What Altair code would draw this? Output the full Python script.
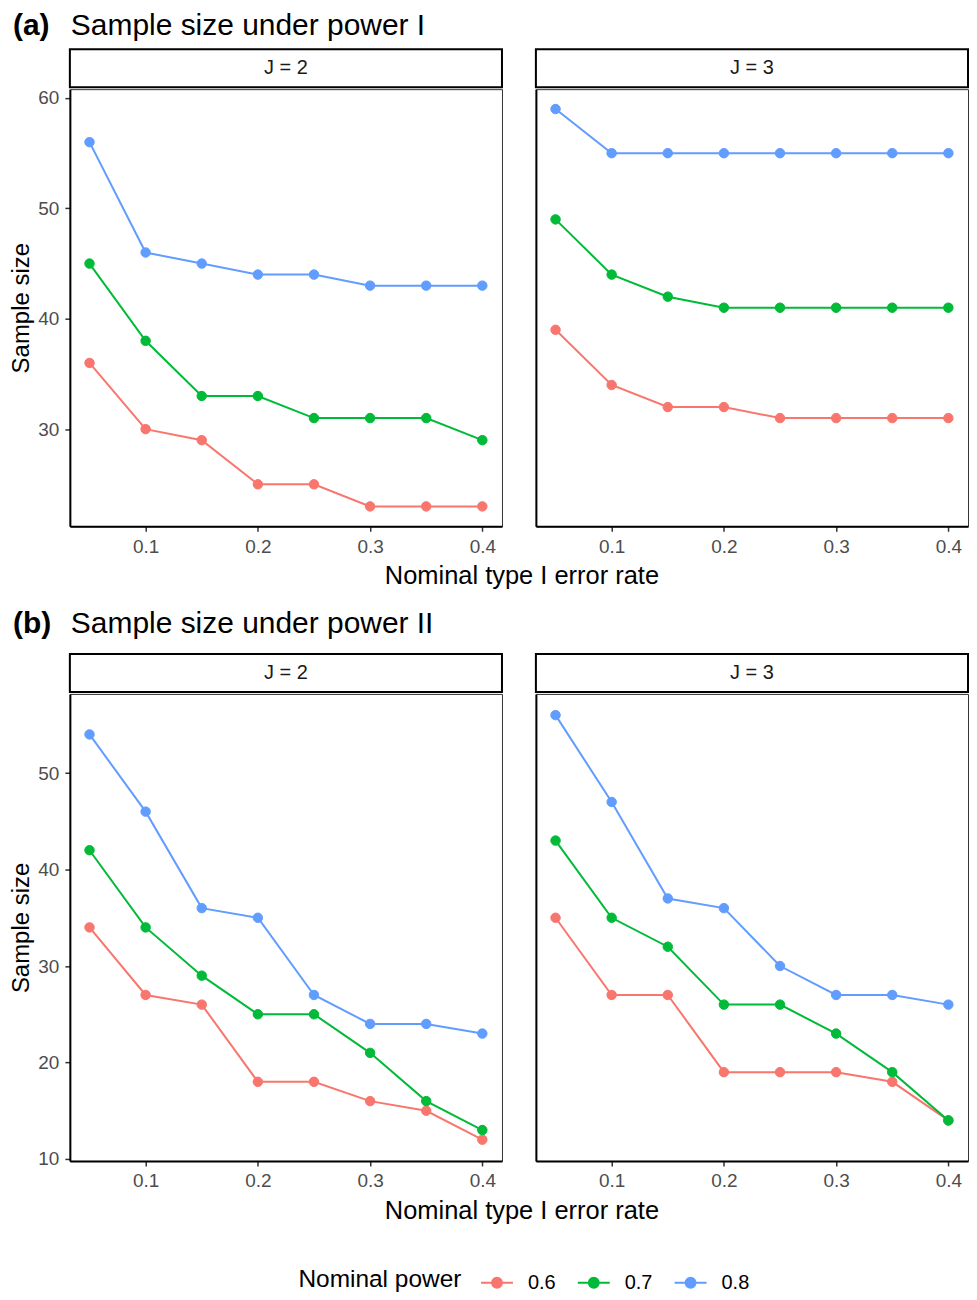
import altair as alt
import pandas as pd

# ---------------- data ----------------
alpha = [0.05, 0.10, 0.15, 0.20, 0.25, 0.30, 0.35, 0.40]
powers = ["0.6", "0.7", "0.8"]
colors = ["#F8766D", "#00BA38", "#619CFF"]
j_labels = ["J = 2", "J = 3"]
row_tags = ["(a)", "(b)"]
row_titles = ["Sample size under power I", "Sample size under power II"]
x_title = "Nominal type I error rate"
y_title = "Sample size"

# (a) power I
a_J2_p06 = [36, 30, 29, 25, 25, 23, 23, 23]
a_J2_p07 = [45, 38, 33, 33, 31, 31, 31, 29]
a_J2_p08 = [56, 46, 45, 44, 44, 43, 43, 43]
a_J3_p06 = [39, 34, 32, 32, 31, 31, 31, 31]
a_J3_p07 = [49, 44, 42, 41, 41, 41, 41, 41]
a_J3_p08 = [59, 55, 55, 55, 55, 55, 55, 55]
# (b) power II
b_J2_p06 = [34, 27, 26, 18, 18, 16, 15, 12]
b_J2_p07 = [42, 34, 29, 25, 25, 21, 16, 13]
b_J2_p08 = [54, 46, 36, 35, 27, 24, 24, 23]
b_J3_p06 = [35, 27, 27, 19, 19, 19, 18, 14]
b_J3_p07 = [43, 35, 32, 26, 26, 23, 19, 14]
b_J3_p08 = [56, 47, 37, 36, 30, 27, 27, 26]

x_ticks = [0.1, 0.2, 0.3, 0.4]
y_ticks_a = [30, 40, 50, 60]
y_ticks_b = [10, 20, 30, 40, 50]

# ---------------- layout constants ----------------
W = 433
GAP = 32
H_A = 438
H_B = 468
STRIP_H = 38
XT_H = 34
FONT = "Liberation Sans"

KEY_PATH = ("M-1,0L1,0M0.31,0A0.31,0.31,0,1,1,-0.31,0"
            "A0.31,0.31,0,1,1,0.31,0Z")

legend = alt.Legend(
    title="Nominal power",
    orient="none",
    legendX=229,
    legendY=1257,
    direction="horizontal",
    titleOrient="left",
    titleAnchor="middle",
    titleBaseline="middle",
    titleFontSize=24.5,
    titleFontWeight="normal",
    titleColor="black",
    titlePadding=18,
    labelFontSize=20,
    labelColor="black",
    labelOffset=14,
    columnPadding=18,
    symbolType=KEY_PATH,
    symbolSize=1024,
    symbolStrokeWidth=2,
    symbolOpacity=1,
)

col_scale = alt.Scale(domain=powers, range=colors)


def panel_df(series):
    rows = []
    for p, vals in zip(powers, series):
        for a, v in zip(alpha, vals):
            rows.append({"alpha": a, "n": v, "power": p})
    return pd.DataFrame(rows)


def expand(lo, hi, frac=0.05):
    r = hi - lo
    return [lo - frac * r, hi + frac * r]


def plot_panel(series, ydom, yticks, height, first):
    df = panel_df(series)
    xdom = expand(min(alpha), max(alpha))
    if first:
        yaxis = alt.Axis(values=yticks, title=y_title, titlePadding=4,
                         titleFontSize=24)
    else:
        yaxis = alt.Axis(labels=False, ticks=False, title=None, domain=True)
    base = alt.Chart(df).encode(
        x=alt.X("alpha:Q",
                scale=alt.Scale(domain=xdom, nice=False, zero=False),
                axis=alt.Axis(values=x_ticks, format=".1f", title=None)),
        y=alt.Y("n:Q",
                scale=alt.Scale(domain=ydom, nice=False, zero=False),
                axis=yaxis),
        detail="power:N",
    )
    line = base.mark_line(strokeWidth=2).encode(
        stroke=alt.Stroke("power:N", scale=col_scale, legend=legend))
    pts = base.mark_circle(size=90, opacity=1, strokeWidth=1).encode(
        fill=alt.Fill("power:N", scale=col_scale, legend=legend),
        stroke=alt.Stroke("power:N", scale=col_scale, legend=legend))
    return alt.layer(line, pts).properties(
        width=W, height=height,
        view=alt.ViewBackground(stroke="#333333", strokeWidth=1),
    )


def strip(label):
    d = pd.DataFrame({"label": [label]})
    base = alt.Chart(d)
    box = base.mark_rect(fill="white", stroke="black", strokeWidth=2).encode(
        x=alt.value(0), x2=alt.value(W), y=alt.value(0), y2=alt.value(STRIP_H))
    txt = base.mark_text(fontSize=20, color="#1A1A1A", baseline="middle",
                         align="center").encode(
        x=alt.value(W / 2), y=alt.value(STRIP_H / 2), text="label:N")
    return alt.layer(box, txt).properties(width=W, height=STRIP_H)


def header(tag, title, h):
    d = pd.DataFrame({"tag": [tag], "title": [title]})
    base = alt.Chart(d)
    t1 = base.mark_text(align="left", baseline="middle", fontSize=30,
                        fontWeight="bold", color="black").encode(
        x=alt.value(-57), y=alt.value(15), text="tag:N")
    t2 = base.mark_text(align="left", baseline="middle", fontSize=30,
                        color="black").encode(
        x=alt.value(1), y=alt.value(15), text="title:N")
    return alt.layer(t1, t2).properties(width=500, height=h)


def xtitle():
    d = pd.DataFrame({"t": [x_title]})
    return alt.Chart(d).mark_text(
        align="center", baseline="middle", fontSize=25.5, color="black"
    ).encode(
        x=alt.value(W + GAP / 2 + 4), y=alt.value(19), text="t:N"
    ).properties(width=W, height=XT_H)


def row(tag, title, s2, s3, yticks, height, header_h):
    all_vals = [v for s in (s2 + s3) for v in s]
    ydom = expand(min(all_vals), max(all_vals))
    p2 = alt.vconcat(strip(j_labels[0]),
                     plot_panel(s2, ydom, yticks, height, True), spacing=0)
    p3 = alt.vconcat(strip(j_labels[1]),
                     plot_panel(s3, ydom, yticks, height, False), spacing=0)
    panels = alt.hconcat(p2, p3, spacing=GAP)
    return alt.vconcat(header(tag, title, header_h), panels, xtitle(),
                       spacing=0)


row_a = row(row_tags[0], row_titles[0],
            [a_J2_p06, a_J2_p07, a_J2_p08],
            [a_J3_p06, a_J3_p07, a_J3_p08], y_ticks_a, H_A, 37)
row_b = row(row_tags[1], row_titles[1],
            [b_J2_p06, b_J2_p07, b_J2_p08],
            [b_J3_p06, b_J3_p07, b_J3_p08], y_ticks_b, H_B, 44)

chart = alt.vconcat(row_a, row_b, spacing=18).properties(
    padding={"left": 1, "top": 2, "right": 0, "bottom": 0}
).configure(
    font=FONT
).configure_view(
    stroke=None
).configure_axis(
    labelFont=FONT,
    labelFontSize=19,
    labelColor="#4D4D4D",
    labelPadding=6,
    tickColor="#333333",
    tickSize=5,
    tickWidth=1.5,
    domainColor="black",
    domainWidth=2,
    grid=False,
    titleFont=FONT,
    titleFontSize=25,
    titleFontWeight="normal",
    titleColor="black",
)

chart.save("out.html", embed_options={"renderer": "svg", "actions": False})
